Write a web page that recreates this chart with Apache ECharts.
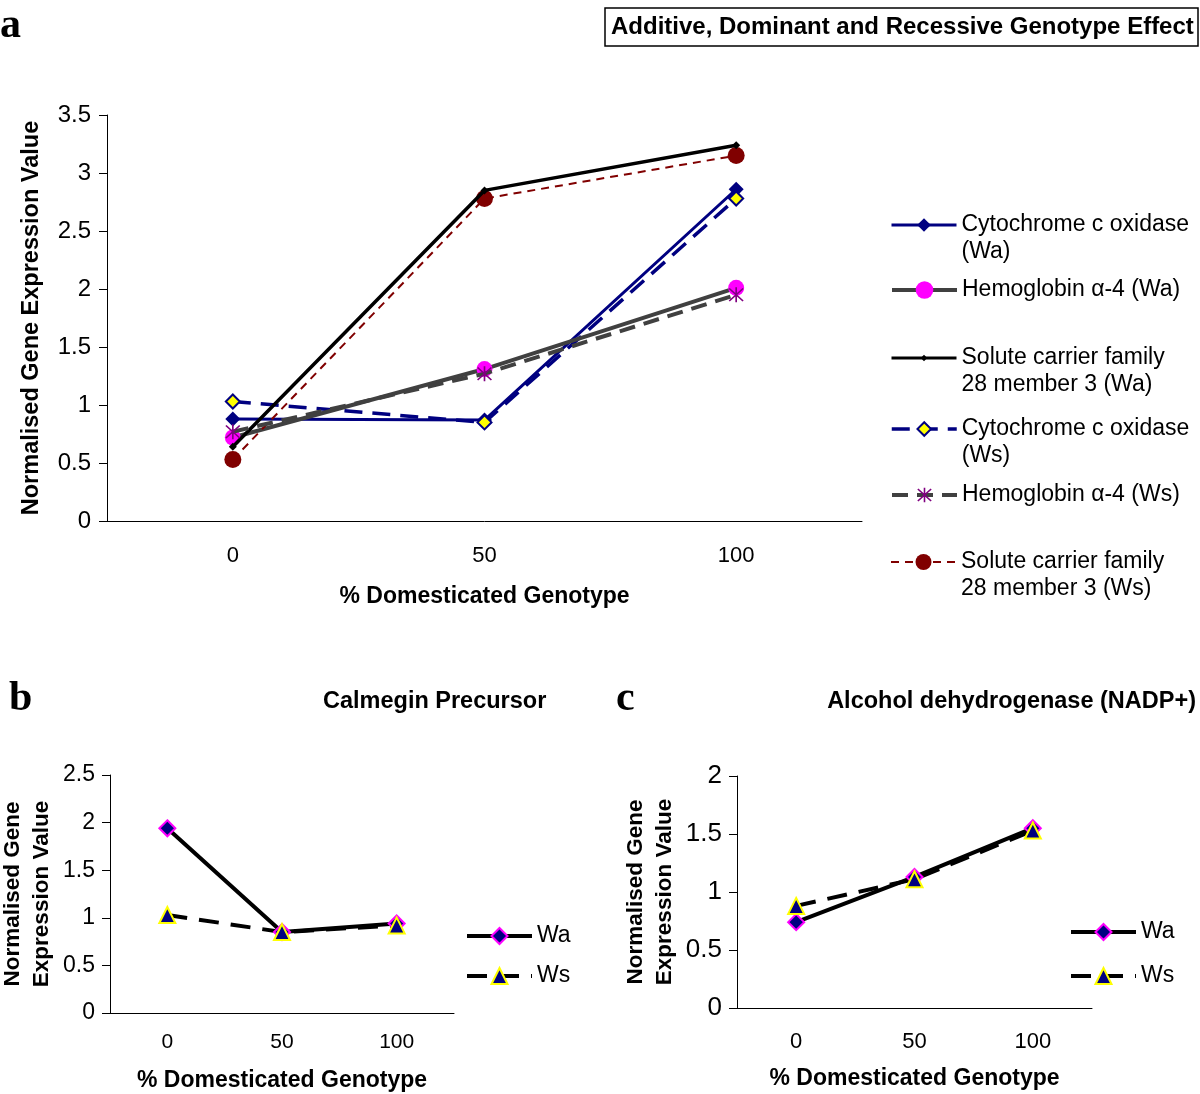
<!DOCTYPE html>
<html>
<head>
<meta charset="utf-8">
<script src="https://cdn.jsdelivr.net/npm/echarts@6/dist/echarts.min.js"></script>
<style>
html,body{margin:0;padding:0;background:#fff;}
#chart{width:1200px;height:1094px;}
</style>
</head>
<body>
<div id="chart"></div>
<script>
// ---- Data ----
const xCats = ['0', '50', '100'];
const namesA = [
  'Cytochrome c oxidase (Wa)',
  'Hemoglobin \u03b1-4 (Wa)',
  'Solute carrier family 28 member 3 (Wa)',
  'Cytochrome c oxidase (Ws)',
  'Hemoglobin \u03b1-4 (Ws)',
  'Solute carrier family 28 member 3 (Ws)'
];
const legendLabelsA = [
  'Cytochrome c oxidase\n(Wa)',
  'Hemoglobin \u03b1-4 (Wa)',
  'Solute carrier family\n28 member 3 (Wa)',
  'Cytochrome c oxidase\n(Ws)',
  'Hemoglobin \u03b1-4 (Ws)',
  'Solute carrier family\n28 member 3 (Ws)'
];
const cytoWa   = [0.88, 0.87, 2.86];
const hemoWa   = [0.72, 1.31, 2.01];
const soluteWa = [0.64, 2.85, 3.24];
const cytoWs   = [1.03, 0.85, 2.78];
const hemoWs   = [0.77, 1.27, 1.95];
const soluteWs = [0.53, 2.78, 3.15];

const calmWa = [1.94, 0.85, 0.94];
const calmWs = [1.03, 0.85, 0.92];
const adhWa  = [0.74, 1.13, 1.55];
const adhWs  = [0.88, 1.11, 1.53];

const titleA = 'Additive, Dominant and Recessive Genotype Effect';
const titleB = 'Calmegin Precursor';
const titleC = 'Alcohol dehydrogenase (NADP+)';
const xName = '% Domesticated Genotype';
const yNameA = 'Normalised Gene Expression Value';
const yNameBC = 'Normalised Gene\nExpression Value';

// ---- Styles ----
const FONT = '"Liberation Sans", Arial, sans-serif';
const SERIF = '"Liberation Serif", "Times New Roman", serif';
const asterisk = 'path://M9,0L11,0L11,20L9,20Z M1,2.4L2.4,1L19,17.6L17.6,19Z M17.6,1L19,2.4L2.4,19L1,17.6Z';

const chart = echarts.init(document.getElementById('chart'));

function xAxisCfg(grid, labelSize, labelMargin, nameGap) {
  return {
    type: 'category', gridIndex: grid, data: xCats, boundaryGap: true,
    axisLine: {lineStyle: {color: '#000', width: 1}},
    axisTick: {length: 8, lineStyle: {color: '#000'}},
    axisLabel: {color: '#000', fontSize: labelSize, fontFamily: FONT, margin: labelMargin},
    name: xName, nameLocation: 'middle', nameGap: nameGap,
    nameTextStyle: {color: '#000', fontSize: 23, fontWeight: 'bold', fontFamily: FONT}
  };
}
function yAxisCfg(grid, max, name, nameSize, nameLH, nameGap, labelSize, labelMargin) {
  return {
    type: 'value', gridIndex: grid, min: 0, max: max, interval: 0.5,
    axisLine: {show: true, lineStyle: {color: '#000', width: 1}},
    axisTick: {show: true, length: 8, lineStyle: {color: '#000'}},
    splitLine: {show: false},
    axisLabel: {color: '#000', fontSize: labelSize, fontFamily: FONT, margin: labelMargin},
    name: name, nameLocation: 'middle', nameGap: nameGap,
    nameTextStyle: {color: '#000', fontSize: nameSize, fontWeight: 'bold', fontFamily: FONT, lineHeight: nameLH}
  };
}

// iconY = vertical centre of the legend icon
function legendItem(name, label, left, iconY, itemH, lineW) {
  const twoLine = label.indexOf('\n') >= 0;
  const lh = 27;
  const text = twoLine ? '\n' + label : label;
  const textH = twoLine ? lh * 3 : lh;
  return {
    data: [name], left: left, top: iconY - textH / 2, padding: 0,
    itemWidth: 65, itemHeight: itemH,
    selectedMode: false,
    lineStyle: {width: lineW},
    formatter: function () { return text; },
    textStyle: {color: '#000', fontSize: 23, fontFamily: FONT, lineHeight: lh}
  };
}

const legendIconYA = [225, 290, 358, 429, 495, 562];
const legendItemHA = [17, 22, 8, 17, 18, 20];
const legendLineWA = [3, 4, 3, 3.5, 4, 2];
const legends = namesA.map((n, i) =>
  legendItem(n, legendLabelsA[i], 890, legendIconYA[i], legendItemHA[i], legendLineWA[i]));
legends.push(legendItem('Wa', 'Wa', 465, 936, 20, 4));
legends.push(legendItem('Ws', 'Ws', 465, 976, 20, 4));
legends.push(legendItem('Wa ', 'Wa', 1069, 932, 20, 4));
legends.push(legendItem('Ws ', 'Ws', 1069, 976, 20, 4));

const option = {
  backgroundColor: '#fff',
  animation: false,
  title: [
    {text: titleA, left: 605, top: 8, borderColor: '#000', borderWidth: 1.5, padding: [7, 4, 7, 6],
      textStyle: {color: '#000', fontSize: 24, fontWeight: 'bold', fontFamily: FONT}},
    {text: titleB, left: 323, top: 690, padding: 0,
      textStyle: {color: '#000', fontSize: 23.5, fontWeight: 'bold', fontFamily: FONT}},
    {text: titleC, right: 4, top: 690, padding: 0,
      textStyle: {color: '#000', fontSize: 23.5, fontWeight: 'bold', fontFamily: FONT}}
  ],
  graphic: [
    {type: 'text', left: 0, top: 5, style: {text: 'a', font: 'bold 42px ' + SERIF, fill: '#000'}},
    {type: 'text', left: 9, top: 678, style: {text: 'b', font: 'bold 42px ' + SERIF, fill: '#000'}},
    {type: 'text', left: 616, top: 678, style: {text: 'c', font: 'bold 42px ' + SERIF, fill: '#000'}}
  ],
  legend: legends,
  grid: [
    {left: 107, top: 115, width: 755, height: 406, outerBoundsMode: 'none', containLabel: false},
    {left: 110, top: 775, width: 344, height: 238, outerBoundsMode: 'none', containLabel: false},
    {left: 737, top: 776, width: 355, height: 232, outerBoundsMode: 'none', containLabel: false}
  ],
  xAxis: [xAxisCfg(0, 22, 24, 64), xAxisCfg(1, 21, 19, 56), xAxisCfg(2, 22, 23, 59)],
  yAxis: [
    yAxisCfg(0, 3.5, yNameA, 23.5, 30, 60, 24, 16),
    yAxisCfg(1, 2.5, yNameBC, 22.5, 29, 54, 23, 15),
    yAxisCfg(2, 2, yNameBC, 22.5, 29, 58, 26, 15)
  ],
  series: [
    {name: namesA[0], type: 'line', xAxisIndex: 0, yAxisIndex: 0, data: cytoWa,
      lineStyle: {color: '#000080', width: 3}, symbol: 'diamond', symbolSize: 15,
      itemStyle: {color: '#000080'}, z: 3},
    {name: namesA[1], type: 'line', xAxisIndex: 0, yAxisIndex: 0, data: hemoWa,
      lineStyle: {color: '#404040', width: 4}, symbol: 'circle', symbolSize: 16,
      itemStyle: {color: '#ff00ff'}, z: 4},
    {name: namesA[2], type: 'line', xAxisIndex: 0, yAxisIndex: 0, data: soluteWa,
      lineStyle: {color: '#000000', width: 3.5}, symbol: 'diamond', symbolSize: 8,
      itemStyle: {color: '#000000'}, z: 5},
    {name: namesA[3], type: 'line', xAxisIndex: 0, yAxisIndex: 0, data: cytoWs,
      lineStyle: {color: '#000080', width: 3.5, type: [18, 10]}, symbol: 'diamond', symbolSize: 14,
      itemStyle: {color: '#ffff00', borderColor: '#000080', borderWidth: 2}, z: 3},
    {name: namesA[4], type: 'line', xAxisIndex: 0, yAxisIndex: 0, data: hemoWs,
      lineStyle: {color: '#404040', width: 4, type: [16, 9]}, symbol: asterisk, symbolSize: 15,
      itemStyle: {color: '#800080'}, z: 6},
    {name: namesA[5], type: 'line', xAxisIndex: 0, yAxisIndex: 0, data: soluteWs,
      lineStyle: {color: '#800000', width: 2, type: [8, 6]}, symbol: 'circle', symbolSize: 17,
      itemStyle: {color: '#800000'}, z: 4},

    {name: 'Wa', type: 'line', xAxisIndex: 1, yAxisIndex: 1, data: calmWa,
      lineStyle: {color: '#000', width: 4}, symbol: 'diamond', symbolSize: 16,
      itemStyle: {color: '#000080', borderColor: '#ff00ff', borderWidth: 2}},
    {name: 'Ws', type: 'line', xAxisIndex: 1, yAxisIndex: 1, data: calmWs,
      lineStyle: {color: '#000', width: 4, type: [20, 12]}, symbol: 'triangle', symbolSize: 16,
      itemStyle: {color: '#000080', borderColor: '#ffff00', borderWidth: 2}},

    {name: 'Wa ', type: 'line', xAxisIndex: 2, yAxisIndex: 2, data: adhWa,
      lineStyle: {color: '#000', width: 4}, symbol: 'diamond', symbolSize: 16,
      itemStyle: {color: '#000080', borderColor: '#ff00ff', borderWidth: 2}},
    {name: 'Ws ', type: 'line', xAxisIndex: 2, yAxisIndex: 2, data: adhWs,
      lineStyle: {color: '#000', width: 4, type: [20, 12]}, symbol: 'triangle', symbolSize: 16,
      itemStyle: {color: '#000080', borderColor: '#ffff00', borderWidth: 2}}
  ]
};
chart.setOption(option);
</script>
</body>
</html>
